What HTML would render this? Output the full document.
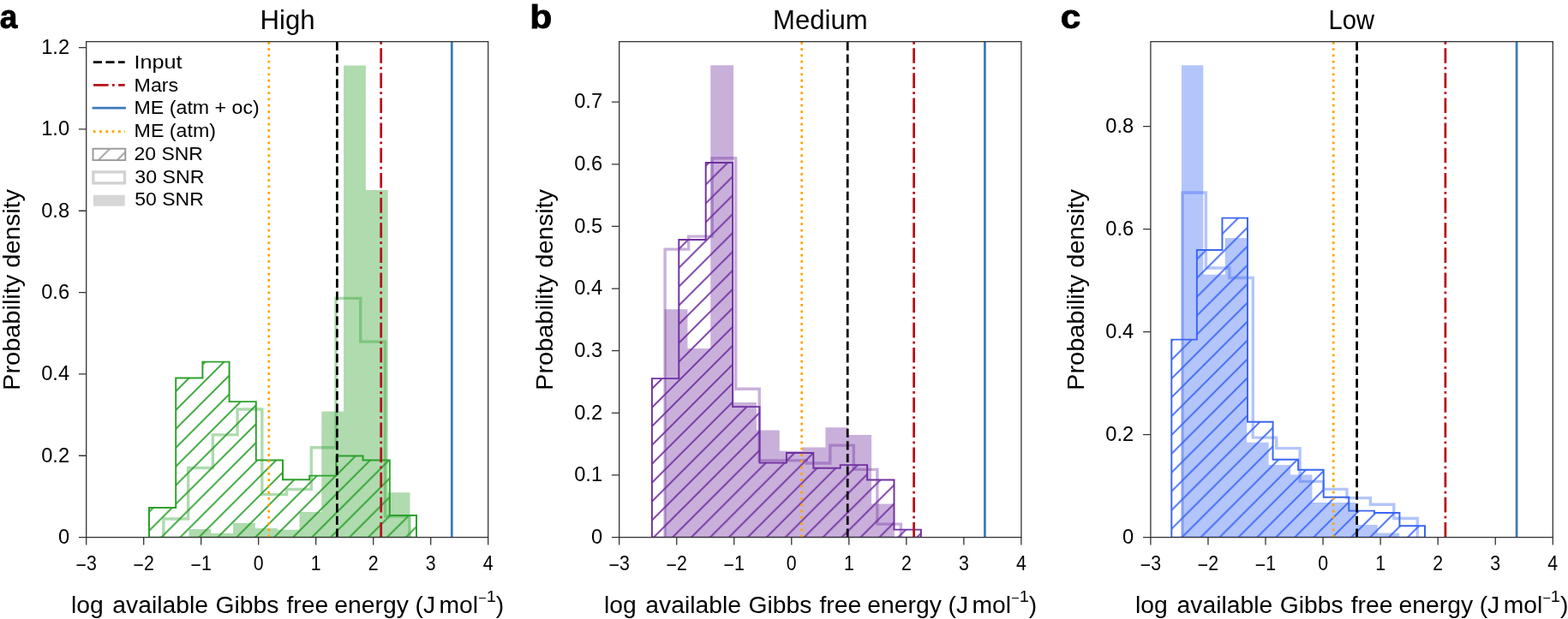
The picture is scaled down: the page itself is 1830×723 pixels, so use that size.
<!DOCTYPE html>
<html><head><meta charset="utf-8"><title>Figure</title>
<style>html,body{margin:0;padding:0;background:#fff;overflow:hidden;}svg{display:block;}text{font-family:"Liberation Sans", "DejaVu Sans", sans-serif;fill:#000;}</style>
</head><body>
<svg width="1830" height="723" viewBox="0 0 1830 723">
<rect x="0" y="0" width="1830" height="723" fill="#fff"/>
<defs>
<pattern id="hatcha" patternUnits="userSpaceOnUse" x="3.75" y="0" width="21.95" height="21.95"><path d="M-3,3 L3,-3 M0,21.95 L21.95,0 M18.95,24.95 L24.95,18.95" stroke="#2ca02c" stroke-width="1.85" fill="none"/></pattern>
<clipPath id="clipa"><rect x="100.7" y="48.6" width="469" height="579"/></clipPath>
<pattern id="hatchb" patternUnits="userSpaceOnUse" x="7.65" y="0" width="21.95" height="21.95"><path d="M-3,3 L3,-3 M0,21.95 L21.95,0 M18.95,24.95 L24.95,18.95" stroke="#7030a0" stroke-width="1.85" fill="none"/></pattern>
<clipPath id="clipb"><rect x="722.7" y="48.6" width="469.2" height="579"/></clipPath>
<pattern id="hatchc" patternUnits="userSpaceOnUse" x="9.6" y="0" width="21.95" height="21.95"><path d="M-3,3 L3,-3 M0,21.95 L21.95,0 M18.95,24.95 L24.95,18.95" stroke="#3a66f5" stroke-width="1.85" fill="none"/></pattern>
<clipPath id="clipc"><rect x="1342.9" y="48.6" width="469.4" height="579"/></clipPath>
<pattern id="hatchleg" patternUnits="userSpaceOnUse" x="16.55" y="0" width="21.95" height="21.95"><path d="M-3,3 L3,-3 M0,21.95 L21.95,0 M18.95,24.95 L24.95,18.95" stroke="#999999" stroke-width="1.8" fill="none"/></pattern>
</defs>
<g clip-path="url(#clipa)">
<path d="M220.5,627.6V618.1H246.3V627.6ZM246.3,627.6V622.8H272.1V627.6ZM272.1,627.6V611.1H297.9V627.6ZM297.9,627.6V617.1H323.7V627.6ZM323.7,627.6V618.7H349.5V627.6ZM349.5,627.6V598H375.3V627.6ZM375.3,627.6V480.4H401.1V627.6ZM401.1,627.6V76.6H426.9V627.6ZM426.9,627.6V222.1H452.7V627.6ZM452.7,627.6V575.3H478.5V627.6Z" fill="#2ca02c" fill-opacity="0.38"/>
<path d="M190.9,627.6 L190.9,605.95 L219.63,605.95 L219.63,546.5 L248.36,546.5 L248.36,507.9 L277.09,507.9 L277.09,478 L305.82,478 L305.82,577.6 L334.55,577.6 L334.55,571.5 L363.28,571.5 L363.28,522.7 L392.01,522.7 L392.01,348.4 L420.74,348.4 L420.74,399.1 L449.47,399.1 L449.47,603 L478.2,603 L478.2,627.6" fill="none" stroke="#2ca02c" stroke-opacity="0.38" stroke-width="3.4" stroke-linejoin="miter"/>
<path d="M174,627.6 L174,592.9 L205.2,592.9 L205.2,441.5 L236.4,441.5 L236.4,422.6 L267.6,422.6 L267.6,469.1 L298.8,469.1 L298.8,537.4 L330,537.4 L330,560.3 L361.2,560.3 L361.2,555.6 L392.4,555.6 L392.4,532.4 L423.6,532.4 L423.6,537.4 L454.8,537.4 L454.8,601.9 L486,601.9 L486,627.6 Z" fill="url(#hatcha)" stroke="#2ca02c" stroke-width="1.95" stroke-linejoin="miter"/>
<path d="M313.8,627.6 L313.8,48.6" stroke="#ffa500" stroke-width="2.75" stroke-dasharray="2.75 4.54" fill="none"/>
<path d="M393.4,627.6 L393.4,48.6" stroke="#000000" stroke-width="2.75" stroke-dasharray="10.18 4.4" fill="none"/>
<path d="M444.7,627.6 L444.7,48.6" stroke="#b5121b" stroke-width="2.75" stroke-dasharray="17.6 4.4 2.75 4.4" fill="none"/>
<path d="M527.3,627.6 L527.3,48.6" stroke="#3d7ab8" stroke-width="2.75" fill="none"/>
</g>
<rect x="100.7" y="48.6" width="469" height="579" fill="none" stroke="#333" stroke-width="1.3"/>
<path d="M100.7,627.6 V636.4 M167.7,627.6 V636.4 M234.7,627.6 V636.4 M301.7,627.6 V636.4 M368.7,627.6 V636.4 M435.7,627.6 V636.4 M502.7,627.6 V636.4 M569.7,627.6 V636.4 M100.7,627.6 H91.9 M100.7,532.26 H91.9 M100.7,436.92 H91.9 M100.7,341.58 H91.9 M100.7,246.24 H91.9 M100.7,150.9 H91.9 M100.7,55.56 H91.9" stroke="#333" stroke-width="1.3" fill="none"/>
<text transform="translate(100.7,665.6) scale(0.9,1)" font-size="23.7" text-anchor="middle"><tspan dy="2">−</tspan><tspan dy="-2">3</tspan></text>
<text transform="translate(167.7,665.6) scale(0.9,1)" font-size="23.7" text-anchor="middle"><tspan dy="2">−</tspan><tspan dy="-2">2</tspan></text>
<text transform="translate(234.7,665.6) scale(0.9,1)" font-size="23.7" text-anchor="middle"><tspan dy="2">−</tspan><tspan dy="-2">1</tspan></text>
<text transform="translate(301.7,665.6) scale(0.9,1)" font-size="23.7" text-anchor="middle">0</text>
<text transform="translate(368.7,665.6) scale(0.9,1)" font-size="23.7" text-anchor="middle">1</text>
<text transform="translate(435.7,665.6) scale(0.9,1)" font-size="23.7" text-anchor="middle">2</text>
<text transform="translate(502.7,665.6) scale(0.9,1)" font-size="23.7" text-anchor="middle">3</text>
<text transform="translate(569.7,665.6) scale(0.9,1)" font-size="23.7" text-anchor="middle">4</text>
<text x="81.1" y="634.9" font-size="23.7" text-anchor="end">0</text>
<text x="81.1" y="539.56" font-size="23.7" text-anchor="end">0.2</text>
<text x="81.1" y="444.22" font-size="23.7" text-anchor="end">0.4</text>
<text x="81.1" y="348.88" font-size="23.7" text-anchor="end">0.6</text>
<text x="81.1" y="253.54" font-size="23.7" text-anchor="end">0.8</text>
<text x="81.1" y="158.2" font-size="23.7" text-anchor="end">1.0</text>
<text x="81.1" y="62.86" font-size="23.7" text-anchor="end">1.2</text>
<g clip-path="url(#clipb)">
<path d="M775.6,627.6V361.3H802.43V627.6ZM802.43,627.6V406.9H829.26V627.6ZM829.26,627.6V76.2H856.09V627.6ZM856.09,627.6V470.1H882.92V627.6ZM882.92,627.6V502.4H909.75V627.6ZM909.75,627.6V526.8H936.58V627.6ZM936.58,627.6V522.6H963.41V627.6ZM963.41,627.6V499.2H990.24V627.6ZM990.24,627.6V508H1017.07V627.6ZM1017.07,627.6V588.4H1043.9V627.6Z" fill="#7030a0" fill-opacity="0.38"/>
<path d="M776.1,627.6 L776.1,291.1 L803.63,291.1 L803.63,276.1 L831.16,276.1 L831.16,184.8 L858.69,184.8 L858.69,454.3 L886.22,454.3 L886.22,537.9 L913.75,537.9 L913.75,537.9 L941.28,537.9 L941.28,541 L968.81,541 L968.81,520.1 L996.34,520.1 L996.34,548.4 L1023.87,548.4 L1023.87,612.1 L1051.4,612.1 L1051.4,627.6" fill="none" stroke="#7030a0" stroke-opacity="0.38" stroke-width="3.4" stroke-linejoin="miter"/>
<path d="M760.9,627.6 L760.9,442.1 L792.3,442.1 L792.3,279.9 L823.7,279.9 L823.7,190 L855.1,190 L855.1,475.1 L886.5,475.1 L886.5,540.6 L917.9,540.6 L917.9,529 L949.3,529 L949.3,546.7 L980.7,546.7 L980.7,543.1 L1012.1,543.1 L1012.1,560.5 L1043.5,560.5 L1043.5,618.6 L1074.9,618.6 L1074.9,627.6 Z" fill="url(#hatchb)" stroke="#7030a0" stroke-width="1.95" stroke-linejoin="miter"/>
<path d="M935.7,627.6 L935.7,48.6" stroke="#ffa500" stroke-width="2.75" stroke-dasharray="2.75 4.54" fill="none"/>
<path d="M989.2,627.6 L989.2,48.6" stroke="#000000" stroke-width="2.75" stroke-dasharray="10.18 4.4" fill="none"/>
<path d="M1066.6,627.6 L1066.6,48.6" stroke="#b5121b" stroke-width="2.75" stroke-dasharray="17.6 4.4 2.75 4.4" fill="none"/>
<path d="M1149.4,627.6 L1149.4,48.6" stroke="#3d7ab8" stroke-width="2.75" fill="none"/>
</g>
<rect x="722.7" y="48.6" width="469.2" height="579" fill="none" stroke="#333" stroke-width="1.3"/>
<path d="M722.7,627.6 V636.4 M789.73,627.6 V636.4 M856.76,627.6 V636.4 M923.79,627.6 V636.4 M990.81,627.6 V636.4 M1057.84,627.6 V636.4 M1124.87,627.6 V636.4 M1191.9,627.6 V636.4 M722.7,627.6 H713.9 M722.7,554.97 H713.9 M722.7,482.34 H713.9 M722.7,409.71 H713.9 M722.7,337.08 H713.9 M722.7,264.45 H713.9 M722.7,191.82 H713.9 M722.7,119.19 H713.9" stroke="#333" stroke-width="1.3" fill="none"/>
<text transform="translate(722.7,665.6) scale(0.9,1)" font-size="23.7" text-anchor="middle"><tspan dy="2">−</tspan><tspan dy="-2">3</tspan></text>
<text transform="translate(789.73,665.6) scale(0.9,1)" font-size="23.7" text-anchor="middle"><tspan dy="2">−</tspan><tspan dy="-2">2</tspan></text>
<text transform="translate(856.76,665.6) scale(0.9,1)" font-size="23.7" text-anchor="middle"><tspan dy="2">−</tspan><tspan dy="-2">1</tspan></text>
<text transform="translate(923.79,665.6) scale(0.9,1)" font-size="23.7" text-anchor="middle">0</text>
<text transform="translate(990.81,665.6) scale(0.9,1)" font-size="23.7" text-anchor="middle">1</text>
<text transform="translate(1057.84,665.6) scale(0.9,1)" font-size="23.7" text-anchor="middle">2</text>
<text transform="translate(1124.87,665.6) scale(0.9,1)" font-size="23.7" text-anchor="middle">3</text>
<text transform="translate(1191.9,665.6) scale(0.9,1)" font-size="23.7" text-anchor="middle">4</text>
<text x="703.1" y="634.9" font-size="23.7" text-anchor="end">0</text>
<text x="703.1" y="562.27" font-size="23.7" text-anchor="end">0.1</text>
<text x="703.1" y="489.64" font-size="23.7" text-anchor="end">0.2</text>
<text x="703.1" y="417.01" font-size="23.7" text-anchor="end">0.3</text>
<text x="703.1" y="344.38" font-size="23.7" text-anchor="end">0.4</text>
<text x="703.1" y="271.75" font-size="23.7" text-anchor="end">0.5</text>
<text x="703.1" y="199.12" font-size="23.7" text-anchor="end">0.6</text>
<text x="703.1" y="126.49" font-size="23.7" text-anchor="end">0.7</text>
<g clip-path="url(#clipc)">
<path d="M1378.9,627.6V76.3H1404.33V627.6ZM1404.33,627.6V320.7H1429.76V627.6ZM1429.76,627.6V278.1H1455.19V627.6ZM1455.19,627.6V516.8H1480.62V627.6ZM1480.62,627.6V543H1506.05V627.6ZM1506.05,627.6V554.4H1531.48V627.6ZM1531.48,627.6V586.9H1556.91V627.6ZM1556.91,627.6V586.9H1582.34V627.6ZM1582.34,627.6V613H1607.77V627.6ZM1607.77,627.6V622.4H1633.2V627.6Z" fill="#3a66f5" fill-opacity="0.38"/>
<path d="M1380,627.6 L1380,225 L1407.42,225 L1407.42,313 L1434.84,313 L1434.84,324.5 L1462.26,324.5 L1462.26,511.1 L1489.68,511.1 L1489.68,523.6 L1517.1,523.6 L1517.1,562.4 L1544.52,562.4 L1544.52,571.4 L1571.94,571.4 L1571.94,581.6 L1599.36,581.6 L1599.36,589.3 L1626.78,589.3 L1626.78,605.5 L1654.2,605.5 L1654.2,627.6" fill="none" stroke="#3a66f5" stroke-opacity="0.38" stroke-width="3.4" stroke-linejoin="miter"/>
<path d="M1367.3,627.6 L1367.3,396.6 L1396.87,396.6 L1396.87,292 L1426.44,292 L1426.44,254.6 L1456.01,254.6 L1456.01,492.8 L1485.58,492.8 L1485.58,536.8 L1515.15,536.8 L1515.15,548.8 L1544.72,548.8 L1544.72,580.7 L1574.29,580.7 L1574.29,596.6 L1603.86,596.6 L1603.86,599 L1633.43,599 L1633.43,614.3 L1663,614.3 L1663,627.6 Z" fill="url(#hatchc)" stroke="#3a66f5" stroke-width="1.95" stroke-linejoin="miter"/>
<path d="M1556.2,627.6 L1556.2,48.6" stroke="#ffa500" stroke-width="2.75" stroke-dasharray="2.75 4.54" fill="none"/>
<path d="M1583.6,627.6 L1583.6,48.6" stroke="#000000" stroke-width="2.75" stroke-dasharray="10.18 4.4" fill="none"/>
<path d="M1686.9,627.6 L1686.9,48.6" stroke="#b5121b" stroke-width="2.75" stroke-dasharray="17.6 4.4 2.75 4.4" fill="none"/>
<path d="M1770.1,627.6 L1770.1,48.6" stroke="#3d7ab8" stroke-width="2.75" fill="none"/>
</g>
<rect x="1342.9" y="48.6" width="469.4" height="579" fill="none" stroke="#333" stroke-width="1.3"/>
<path d="M1342.9,627.6 V636.4 M1409.96,627.6 V636.4 M1477.01,627.6 V636.4 M1544.07,627.6 V636.4 M1611.13,627.6 V636.4 M1678.19,627.6 V636.4 M1745.24,627.6 V636.4 M1812.3,627.6 V636.4 M1342.9,627.6 H1334.1 M1342.9,507.6 H1334.1 M1342.9,387.6 H1334.1 M1342.9,267.6 H1334.1 M1342.9,147.6 H1334.1" stroke="#333" stroke-width="1.3" fill="none"/>
<text transform="translate(1342.9,665.6) scale(0.9,1)" font-size="23.7" text-anchor="middle"><tspan dy="2">−</tspan><tspan dy="-2">3</tspan></text>
<text transform="translate(1409.96,665.6) scale(0.9,1)" font-size="23.7" text-anchor="middle"><tspan dy="2">−</tspan><tspan dy="-2">2</tspan></text>
<text transform="translate(1477.01,665.6) scale(0.9,1)" font-size="23.7" text-anchor="middle"><tspan dy="2">−</tspan><tspan dy="-2">1</tspan></text>
<text transform="translate(1544.07,665.6) scale(0.9,1)" font-size="23.7" text-anchor="middle">0</text>
<text transform="translate(1611.13,665.6) scale(0.9,1)" font-size="23.7" text-anchor="middle">1</text>
<text transform="translate(1678.19,665.6) scale(0.9,1)" font-size="23.7" text-anchor="middle">2</text>
<text transform="translate(1745.24,665.6) scale(0.9,1)" font-size="23.7" text-anchor="middle">3</text>
<text transform="translate(1812.3,665.6) scale(0.9,1)" font-size="23.7" text-anchor="middle">4</text>
<text x="1323.3" y="634.9" font-size="23.7" text-anchor="end">0</text>
<text x="1323.3" y="514.9" font-size="23.7" text-anchor="end">0.2</text>
<text x="1323.3" y="394.9" font-size="23.7" text-anchor="end">0.4</text>
<text x="1323.3" y="274.9" font-size="23.7" text-anchor="end">0.6</text>
<text x="1323.3" y="154.9" font-size="23.7" text-anchor="end">0.8</text>
<text transform="translate(303.58,33.50) scale(1.0119,1)" font-size="30.8" >High</text>
<text transform="translate(82.88,715.70) scale(1.0600,1)" font-size="26.7">log</text>
<text transform="translate(131.34,715.70) scale(1.0600,1)" font-size="26.7">available</text>
<text transform="translate(251.54,715.70) scale(1.0600,1)" font-size="26.7">Gibbs</text>
<text transform="translate(334.50,715.70) scale(1.0600,1)" font-size="26.7">free</text>
<text transform="translate(390.34,715.70) scale(1.0600,1)" font-size="26.7">energy</text>
<text transform="translate(484.48,715.70) scale(1.0600,1)" font-size="26.7">(J</text>
<text transform="translate(512.48,715.70) scale(1.0600,1)" font-size="26.7">mol<tspan font-size="15.5" dy="-11.4">−</tspan><tspan font-size="19" dy="-1">1</tspan><tspan dy="12.4">)</tspan></text>
<text transform="translate(23.10,455.90) rotate(-90) scale(1.0495,1)" font-size="27.6">Probability density</text>
<text transform="translate(901.98,33.50) scale(1.0104,1)" font-size="30.8" >Medium</text>
<text transform="translate(704.88,715.70) scale(1.0600,1)" font-size="26.7">log</text>
<text transform="translate(753.34,715.70) scale(1.0600,1)" font-size="26.7">available</text>
<text transform="translate(873.54,715.70) scale(1.0600,1)" font-size="26.7">Gibbs</text>
<text transform="translate(956.50,715.70) scale(1.0600,1)" font-size="26.7">free</text>
<text transform="translate(1012.34,715.70) scale(1.0600,1)" font-size="26.7">energy</text>
<text transform="translate(1106.48,715.70) scale(1.0600,1)" font-size="26.7">(J</text>
<text transform="translate(1134.48,715.70) scale(1.0600,1)" font-size="26.7">mol<tspan font-size="15.5" dy="-11.4">−</tspan><tspan font-size="19" dy="-1">1</tspan><tspan dy="12.4">)</tspan></text>
<text transform="translate(645.10,455.90) rotate(-90) scale(1.0495,1)" font-size="27.6">Probability density</text>
<text transform="translate(1550.51,33.50) scale(0.9473,1)" font-size="30.8" >Low</text>
<text transform="translate(1325.08,715.70) scale(1.0600,1)" font-size="26.7">log</text>
<text transform="translate(1373.54,715.70) scale(1.0600,1)" font-size="26.7">available</text>
<text transform="translate(1493.74,715.70) scale(1.0600,1)" font-size="26.7">Gibbs</text>
<text transform="translate(1576.70,715.70) scale(1.0600,1)" font-size="26.7">free</text>
<text transform="translate(1632.54,715.70) scale(1.0600,1)" font-size="26.7">energy</text>
<text transform="translate(1726.68,715.70) scale(1.0600,1)" font-size="26.7">(J</text>
<text transform="translate(1754.68,715.70) scale(1.0600,1)" font-size="26.7">mol<tspan font-size="15.5" dy="-11.4">−</tspan><tspan font-size="19" dy="-1">1</tspan><tspan dy="12.4">)</tspan></text>
<text transform="translate(1265.30,455.90) rotate(-90) scale(1.0495,1)" font-size="27.6">Probability density</text>
<text transform="translate(156.38,80.10) scale(1.1104,1)" font-size="22.7" >Input</text>
<text transform="translate(156.55,106.70) scale(1.0229,1)" font-size="22.7" >Mars</text>
<text transform="translate(156.56,133.40) scale(1.0214,1)" font-size="22.7" >ME (atm + oc)</text>
<text transform="translate(156.55,160.10) scale(1.0233,1)" font-size="22.7" >ME (atm)</text>
<text transform="translate(156.49,187.00) scale(1.0117,1)" font-size="22.7" >20 SNR</text>
<text transform="translate(157.28,213.80) scale(1.0208,1)" font-size="22.7" >30 SNR</text>
<text transform="translate(157.29,240.30) scale(1.0130,1)" font-size="22.7" >50 SNR</text>
<text transform="translate(-0.31,33.00) scale(0.9686,1)" font-size="38.2" font-weight="bold" stroke="#000" stroke-width="0.8" stroke-linejoin="round">a</text>
<text transform="translate(618.26,33.00) scale(1.1200,1)" font-size="38.2" font-weight="bold" stroke="#000" stroke-width="0.8" stroke-linejoin="round">b</text>
<text transform="translate(1237.69,33.00) scale(1.1105,1)" font-size="38.2" font-weight="bold" stroke="#000" stroke-width="0.8" stroke-linejoin="round">c</text>
<path d="M108.85,72.6 H145.7" stroke="#000" stroke-width="2.75" stroke-dasharray="10.18 4.4"/>
<path d="M109.0,99.4 H145.7" stroke="#b5121b" stroke-width="2.75" stroke-dasharray="17.6 4.4 2.75 4.4"/>
<path d="M107.6,126.2 H146.9" stroke="#3d7ab8" stroke-width="2.75"/>
<path d="M108.7,153.5 H146.0" stroke="#ffa500" stroke-width="2.75" stroke-dasharray="2.9 4.41"/>
<rect x="108.5" y="173.7" width="37.8" height="13.4" fill="url(#hatchleg)" stroke="#999999" stroke-width="1.9"/>
<rect x="108.9" y="200.9" width="36.6" height="13.0" fill="none" stroke="#d2d2d2" stroke-width="3.4"/>
<rect x="109" y="227.8" width="36.8" height="12.9" fill="#d6d6d6"/>
</svg></body></html>
